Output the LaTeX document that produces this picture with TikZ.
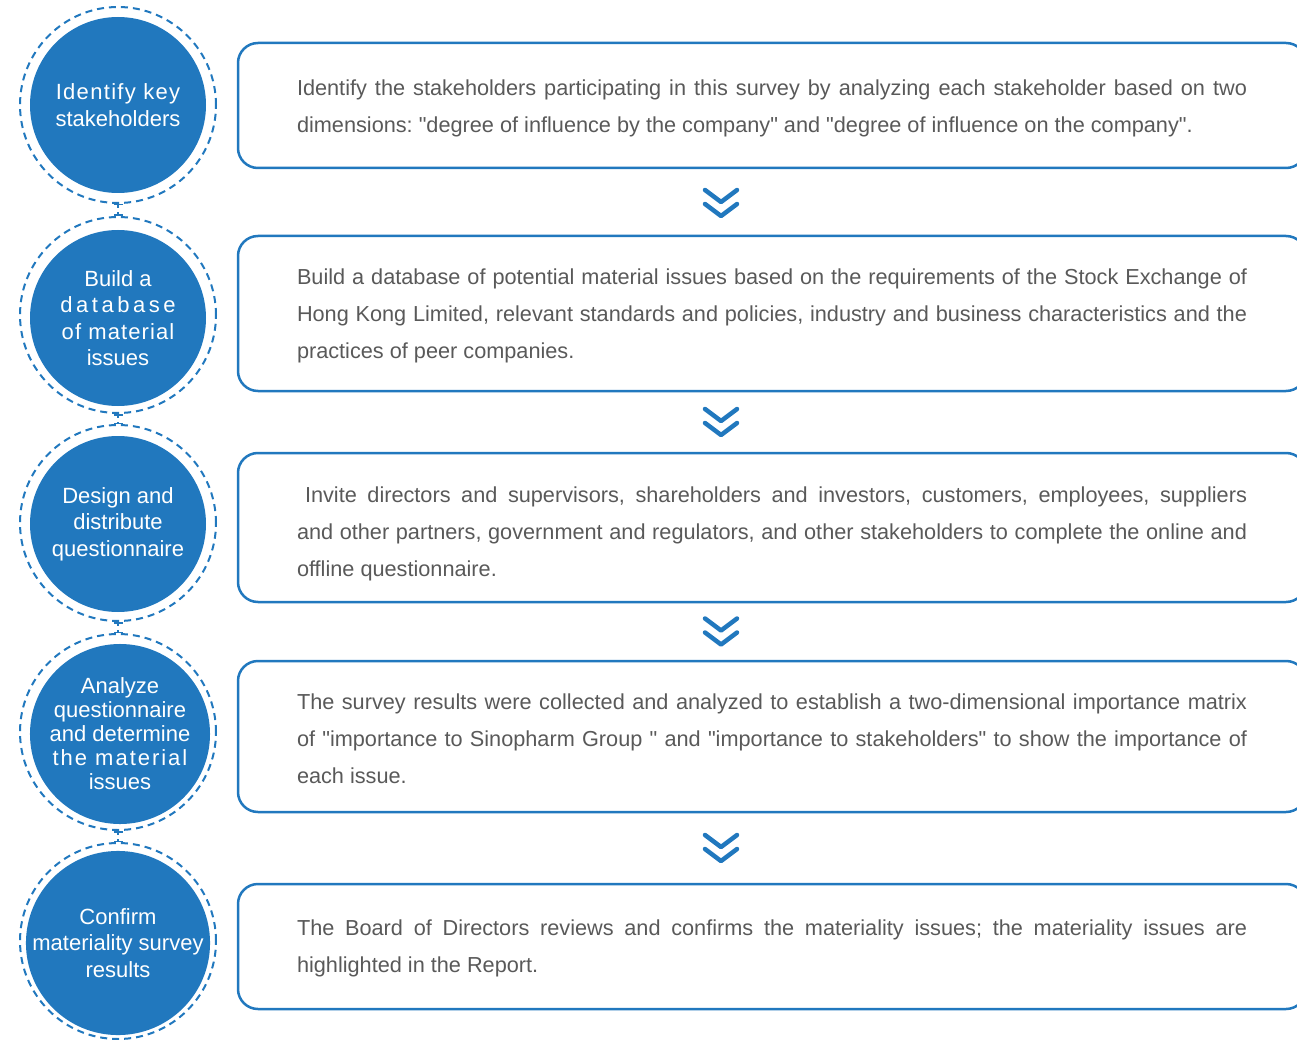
\documentclass[tikz,border=0pt]{standalone}
\usepackage{fontspec}
\setmainfont{Liberation Sans}
\newfontfamily\stepfont{Liberation Sans}
\usetikzlibrary{arrows.meta}
\usetikzlibrary{calc}
\frenchspacing

\definecolor{stepblue}{RGB}{33,120,190}
\definecolor{stepgrey}{RGB}{89,89,89}

\newlength{\boxtextw}
\setlength{\boxtextw}{950pt}
\newcommand{\fullline}[1]{\makebox[\boxtextw][s]{#1}}
\newcommand{\lastline}[1]{\makebox[\boxtextw][l]{#1}}
\newcommand{\spaced}[2]{{\addfontfeature{LetterSpace=#1}#2}}

\tikzset{
  stepring/.style={circle, draw=stepblue, line width=2pt, dash pattern=on 7pt off 5pt,
    minimum size=196pt, inner sep=0pt},
  stepcircle/.style={circle, fill=stepblue, text=white, minimum size=176pt, inner sep=0pt,
    align=center, font=\stepfont\fontsize{22}{26.5}\selectfont},
  stepbox/.style={draw=stepblue, line width=2.5pt, rounded corners=20pt, minimum width=1068pt,
    inner sep=0pt},
  steptext/.style={text=stepgrey, text width=950pt, inner sep=0pt, align=justify,
    font=\stepfont\fontsize{21.7}{37}\selectfont},
  ringlink/.style={draw=stepblue, line width=1.5pt, dash pattern=on 3pt off 4pt,
    {Bar[width=9pt]}-{Bar[width=9pt]}},
  chevron/.style={draw=stepblue, line width=4.5pt, line cap=round, line join=round},
}

\begin{document}
\begin{tikzpicture}[x=1pt, y=-1pt]
        \useasboundingbox (0,0) rectangle (1297,1040);
        \clip (0,0) rectangle (1297,1040);
        % steps on the left
        \node[stepring] (r1) at (118,105) {};
        \node[stepring] (r2) at (118,315) {};
        \node[stepring] (r3) at (118,523) {};
        \node[stepring] (r4) at (118,732) {};
        \node[stepring] (r5) at (118,941) {};
        \node[stepcircle] (c1) at (118,105) {\spaced{6}{Identify key}\\stakeholders};
        \node[stepcircle] (c2) at (118,318) {Build a\\\spaced{16}{database}\\\spaced{5}{of material}\\issues};
        \node[stepcircle] (c3) at (118,524) {Design and\\distribute\\questionnaire};
        \node[stepcircle, font=\stepfont\fontsize{22}{24}\selectfont] (c4) at (120,734) {Analyze\\questionnaire\\and determine\\\spaced{9}{the material}\\issues};
        \node[stepcircle] (c5) at (118,943) {Confirm\\materiality survey\\results};
        \draw[ringlink] (r1) -- (r2);
        \draw[ringlink] (r2) -- (r3);
        \draw[ringlink] (r3) -- (r4);
        \draw[ringlink] (r4) -- (r5);
        % descriptions on the right
        \node[stepbox, minimum height=125pt] (b1) at (772,105.5) {};
        \node[stepbox, minimum height=155pt] (b2) at (772,313.5) {};
        \node[stepbox, minimum height=149pt] (b3) at (772,527.5) {};
        \node[stepbox, minimum height=151pt] (b4) at (772,736.5) {};
        \node[stepbox, minimum height=125pt] (b5) at (772,946.5) {};
        \node[steptext] (t1) at ([yshift=-3pt]b1.center) {%
          \fullline{Identify the stakeholders participating in this survey by analyzing each stakeholder based on two}\\
          \lastline{dimensions: "degree of influence by the company" and "degree of influence on the company".}};
        \node[steptext] (t2) at ([yshift=-2pt]b2.center) {%
          \fullline{Build a database of potential material issues based on the requirements of the Stock Exchange of}\\
          \fullline{Hong Kong Limited, relevant standards and policies, industry and business characteristics and the}\\
          \lastline{practices of peer companies.}};
        \node[steptext] (t3) at ([yshift=-6pt]b3.center) {%
          \fullline{\hspace*{8pt}Invite directors and supervisors, shareholders and investors, customers, employees, suppliers}\\
          \fullline{and other partners, government and regulators, and other stakeholders to complete the online and}\\
          \lastline{offline questionnaire.}};
        \node[steptext] (t4) at ([yshift=-2pt]b4.center) {%
          \fullline{The survey results were collected and analyzed to establish a two-dimensional importance matrix}\\
          \fullline{of "importance to Sinopharm Group " and "importance to stakeholders" to show the importance of}\\
          \lastline{each issue.}};
        \node[steptext] (t5) at ([yshift=-2pt]b5.center) {%
          \fullline{The Board of Directors reviews and confirms the materiality issues; the materiality issues are}\\
          \lastline{highlighted in the Report.}};
        % double chevrons between the boxes
        \coordinate (v1) at (721,203);
        \coordinate (v2) at (721,422);
        \coordinate (v3) at (721,631.5);
        \coordinate (v4) at (721,848);
        \draw[chevron, shift={(v1)}] (-16,-13) -- (0,-1) -- (16,-13) (-16,1) -- (0,13) -- (16,1);
        \draw[chevron, shift={(v2)}] (-16,-13) -- (0,-1) -- (16,-13) (-16,1) -- (0,13) -- (16,1);
        \draw[chevron, shift={(v3)}] (-16,-13) -- (0,-1) -- (16,-13) (-16,1) -- (0,13) -- (16,1);
        \draw[chevron, shift={(v4)}] (-16,-13) -- (0,-1) -- (16,-13) (-16,1) -- (0,13) -- (16,1);
    \end{tikzpicture}
\end{document}
